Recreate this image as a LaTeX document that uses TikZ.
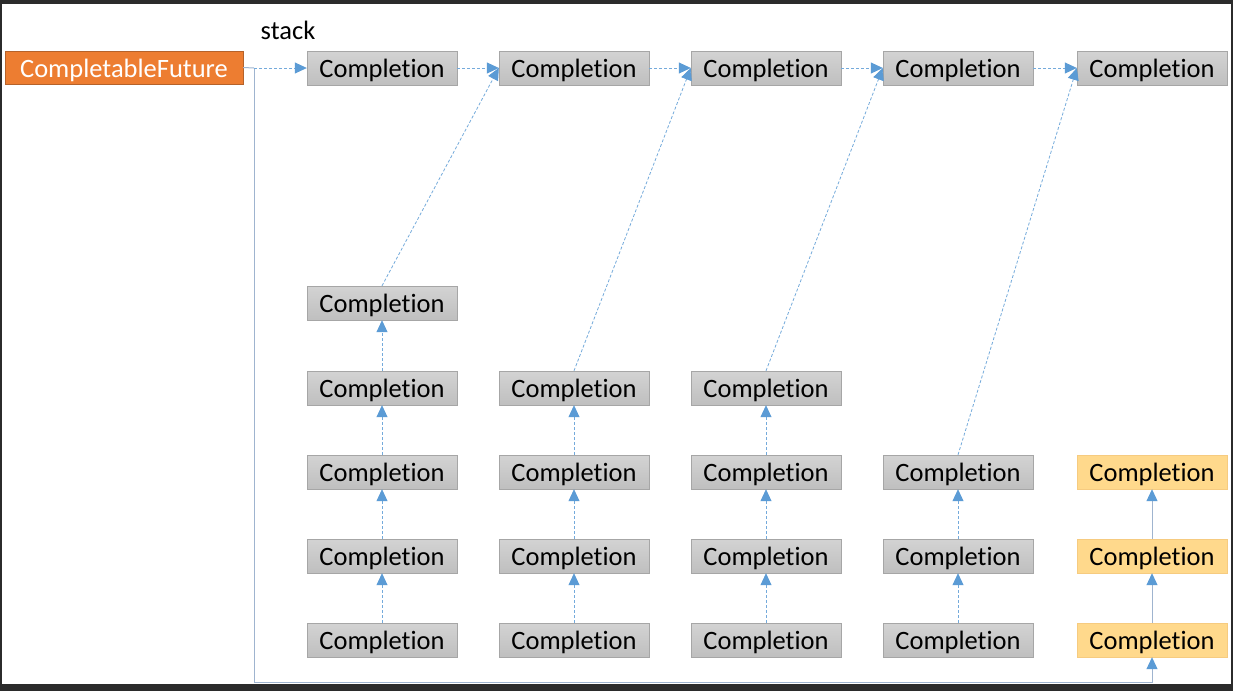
\documentclass[tikz,border=0pt]{standalone}
\usepackage{fontspec}
\setmainfont{Carlito}[Ligatures=NoCommon]
\usetikzlibrary{arrows.meta}

\definecolor{framedark}{HTML}{2B2B2B}
\definecolor{cforange}{HTML}{ED7D31}
\definecolor{cfborder}{HTML}{B5622A}
\definecolor{boxtop}{HTML}{D3D3D3}
\definecolor{boxbottom}{HTML}{BFBFBF}
\definecolor{boxborder}{HTML}{A6A6A6}
\definecolor{doneyellow}{HTML}{FFD98C}
\definecolor{doneborder}{HTML}{F6CB80}
\definecolor{linkblue}{HTML}{5B9BD5}
\definecolor{railblue}{HTML}{9FB4CF}

\tikzset{
  compl/.style={draw=boxborder, top color=boxtop, bottom color=boxbottom,
    minimum width=150pt, minimum height=34pt, inner sep=0pt,
    text depth=0pt, text height=19pt,
    font=\fontsize{26.5}{30}\selectfont},
  done/.style={compl, draw=doneborder, top color=doneyellow, bottom color=doneyellow},
  future/.style={draw=cfborder, fill=cforange, text=white,
    minimum width=238pt, minimum height=33pt, inner sep=0pt,
    text depth=0pt, text height=19pt,
    font=\fontsize{26.5}{30}\selectfont},
  link/.style={linkblue!85, line width=0.8pt, dash pattern=on 3pt off 2pt,
    -{Triangle[length=12pt,width=11pt,color=linkblue,fill=linkblue]}},
  solidlink/.style={railblue, line width=1pt,
    -{Triangle[length=12pt,width=11pt,color=linkblue,fill=linkblue]}},
}

\begin{document}
\begin{tikzpicture}[x=1pt, y=-1pt]
\useasboundingbox (0,0) rectangle (1233,691);
\fill [framedark] (0,0) rectangle (1233,691);
\fill [white] (2,4) rectangle (1231,684);

\node (stack) at (288,30) {\fontsize{26.5}{30}\selectfont stack};
\node [future] (cf) at (124,67.5) {CompletableFuture};

% top of each stack
\node [compl] (t1) at (382,68) {Completion};
\node [compl] (t2) at (574,68) {Completion};
\node [compl] (t3) at (766,68) {Completion};
\node [compl] (t4) at (958,68) {Completion};
\node [compl] (t5) at (1152,68) {Completion};

% column 1
\node [compl] (c1r1) at (382,303) {Completion};
\node [compl] (c1r2) at (382,388) {Completion};
\node [compl] (c1r3) at (382,472) {Completion};
\node [compl] (c1r4) at (382,556) {Completion};
\node [compl] (c1r5) at (382,640) {Completion};

% column 2
\node [compl] (c2r2) at (574,388) {Completion};
\node [compl] (c2r3) at (574,472) {Completion};
\node [compl] (c2r4) at (574,556) {Completion};
\node [compl] (c2r5) at (574,640) {Completion};

% column 3
\node [compl] (c3r2) at (766,388) {Completion};
\node [compl] (c3r3) at (766,472) {Completion};
\node [compl] (c3r4) at (766,556) {Completion};
\node [compl] (c3r5) at (766,640) {Completion};

% column 4
\node [compl] (c4r3) at (958,472) {Completion};
\node [compl] (c4r4) at (958,556) {Completion};
\node [compl] (c4r5) at (958,640) {Completion};

% column 5
\node [done] (c5r3) at (1152,472) {Completion};
\node [done] (c5r4) at (1152,556) {Completion};
\node [done] (c5r5) at (1152,640) {Completion};

% rail from the future
\coordinate (fork) at (254,68);
\coordinate (railbl) at (254,682);
\coordinate (railbr) at (1152,682);
\draw [railblue, line width=1pt] (cf.east) -- (fork);
\draw [solidlink] (fork) -- (railbl) -- (railbr) -- (c5r5.south);

% top row
\draw [link] (fork) -- (t1.west);
\draw [link] (t1.east) -- (t2.west);
\draw [link] (t2.east) -- (t3.west);
\draw [link] (t3.east) -- (t4.west);
\draw [link] (t4.east) -- (t5.west);

% diagonals
\draw [link] (c1r1.north) -- (t2.west);
\draw [link] (c2r2.north) -- (t3.west);
\draw [link] (c3r2.north) -- (t4.west);
\draw [link] (c4r3.north) -- (t5.west);

% stacks
\draw [link] (c1r5.north) -- (c1r4.south);
\draw [link] (c1r4.north) -- (c1r3.south);
\draw [link] (c1r3.north) -- (c1r2.south);
\draw [link] (c1r2.north) -- (c1r1.south);
\draw [link] (c2r5.north) -- (c2r4.south);
\draw [link] (c2r4.north) -- (c2r3.south);
\draw [link] (c2r3.north) -- (c2r2.south);
\draw [link] (c3r5.north) -- (c3r4.south);
\draw [link] (c3r4.north) -- (c3r3.south);
\draw [link] (c3r3.north) -- (c3r2.south);
\draw [link] (c4r5.north) -- (c4r4.south);
\draw [link] (c4r4.north) -- (c4r3.south);
\draw [solidlink] (c5r5.north) -- (c5r4.south);
\draw [solidlink] (c5r4.north) -- (c5r3.south);

\end{tikzpicture}
\end{document}
